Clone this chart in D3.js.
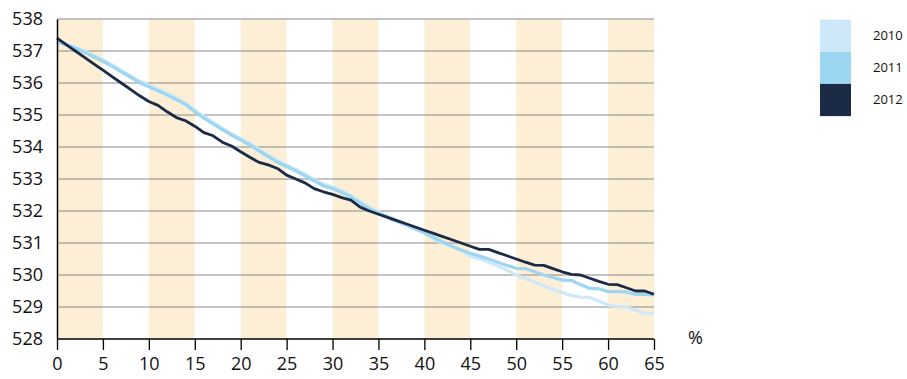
<!DOCTYPE html>
<html><head><meta charset="utf-8">
<script src="https://cdn.jsdelivr.net/npm/d3@7"></script>
<style>body{margin:0;background:#fff}svg{display:block}text{font-family:"Open Sans",sans-serif;fill:#111}</style>
</head><body><div id="chart"></div>
<script>
const xs = d3.range(0, 66);
const s2010 = [537.33,537.23,537.13,537.00,536.86,536.72,536.57,536.40,536.23,536.06,535.93,535.81,535.68,535.53,535.38,535.15,534.95,534.77,534.59,534.42,534.27,534.11,533.93,533.75,533.58,533.44,533.30,533.15,532.99,532.84,532.75,532.63,532.49,532.30,532.12,531.97,531.84,531.71,531.59,531.46,531.32,531.12,530.99,530.90,530.78,530.59,530.50,530.40,530.28,530.15,530.00,529.90,529.78,529.66,529.55,529.45,529.36,529.31,529.30,529.18,529.06,529.01,529.00,528.90,528.80,528.80];
const s2011 = [537.29,537.19,537.09,536.96,536.82,536.68,536.52,536.35,536.18,536.01,535.88,535.76,535.63,535.48,535.33,535.10,534.90,534.72,534.54,534.37,534.22,534.06,533.88,533.70,533.53,533.39,533.25,533.10,532.94,532.79,532.70,532.58,532.44,532.25,532.07,531.93,531.80,531.68,531.56,531.44,531.32,531.18,531.03,530.90,530.78,530.68,530.59,530.50,530.40,530.30,530.21,530.20,530.10,530.00,529.92,529.84,529.83,529.70,529.58,529.57,529.48,529.48,529.47,529.39,529.39,529.38];
const s2012 = [537.40,537.20,537.00,536.80,536.60,536.40,536.20,536.00,535.80,535.60,535.42,535.30,535.10,534.92,534.82,534.65,534.45,534.35,534.15,534.03,533.85,533.68,533.52,533.44,533.33,533.12,533.00,532.88,532.70,532.60,532.52,532.42,532.34,532.12,532.00,531.90,531.80,531.70,531.60,531.50,531.40,531.30,531.20,531.10,531.00,530.90,530.80,530.80,530.70,530.60,530.50,530.40,530.31,530.30,530.20,530.10,530.02,530.00,529.90,529.80,529.71,529.70,529.60,529.50,529.50,529.40];
const seriesNames = ["2010","2011","2012"];
const seriesColors = ["#cde9f9","#9dd6f1","#1b2a45"];
const xTicks = [0,5,10,15,20,25,30,35,40,45,50,55,60,65];
const yTicks = [528,529,530,531,532,533,534,535,536,537,538];
const bandStarts = [0,10,20,30,40,50,60];
const xUnit = "%";

const W = 907, H = 379;
const svg = d3.select("#chart").append("svg").attr("width", W).attr("height", H);
const x = d3.scaleLinear().domain([0,65]).range([57,654]);
const y = d3.scaleLinear().domain([528,538]).range([339,19]);

svg.selectAll("rect.band").data(bandStarts).enter().append("rect")
  .attr("x", d => x(d)).attr("width", d => x(d+5)-x(d))
  .attr("y", y(538)).attr("height", y(528)-y(538)).attr("fill", "#fdefd6");

svg.selectAll("line.grid").data(yTicks.filter(d => d > 528)).enter().append("line")
  .attr("x1", x(0)).attr("x2", x(65)).attr("y1", d => y(d)).attr("y2", d => y(d))
  .attr("stroke", "#8a8a8a").attr("stroke-width", 1.2);

const data = [s2010, s2011, s2012];
const line = d3.line().x((d,i) => x(xs[i])).y(d => y(d));
[0,1,2].forEach(k => {
  svg.append("path").datum(data[k]).attr("d", line).attr("fill","none")
    .attr("stroke", seriesColors[k]).attr("stroke-width", k === 2 ? 2.8 : 3.2)
    .attr("stroke-linejoin","round");
});

const xAxis = svg.append("g").attr("transform", `translate(0,${y(528)})`)
  .call(d3.axisBottom(x).tickValues(xTicks).tickSize(11).tickPadding(7).tickFormat(d3.format("d")));
xAxis.select(".domain").attr("stroke","#000").attr("stroke-width",1.5).attr("d", `M${x(0)},0H${x(65)}`);
xAxis.selectAll(".tick line").attr("stroke","#000").attr("stroke-width",1.3);
xAxis.selectAll("text").style("font-size","18px").style("font-family","Open Sans").attr("fill","#111");

const yAxis = svg.append("g").attr("transform", `translate(${x(0)},0)`)
  .call(d3.axisLeft(y).tickValues(yTicks).tickSize(0).tickPadding(14).tickFormat(d3.format("d")));
yAxis.select(".domain").attr("stroke","#000").attr("stroke-width",1.5);
yAxis.selectAll("text").style("font-size","18px").style("font-family","Open Sans").attr("fill","#111");

svg.append("text").attr("x", 688).attr("y", 344).style("font-size","18px").text(xUnit);

const lg = svg.append("g");
seriesNames.forEach((n,i) => {
  lg.append("rect").attr("x",820).attr("y",19.5+i*32.2).attr("width",31).attr("height",32.2).attr("fill",seriesColors[i]);
  lg.append("text").attr("x",873).attr("y",35.5+i*32.2).attr("dy","0.35em").style("font-size","13px").text(n);
});
</script></body></html>
